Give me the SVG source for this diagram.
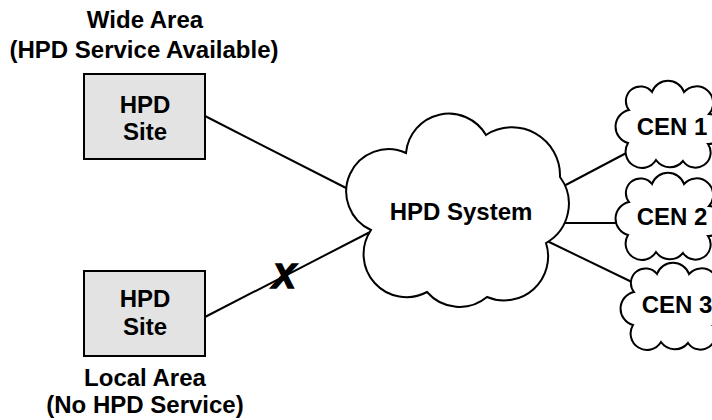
<svg xmlns="http://www.w3.org/2000/svg" width="712" height="420" viewBox="0 0 712 420">
  <style>
    .t { font-family: "Liberation Sans", Arial, sans-serif; font-weight: bold; font-size: 24px; fill: #000; text-anchor: middle; }
    .box { fill: #e3e3e3; stroke: #000; stroke-width: 2; }
    .cloud { fill: #fff; stroke: #000; stroke-width: 2; stroke-linejoin: miter; }
    .link { stroke: #000; stroke-width: 2; fill: none; }
    .cut { font-size: 35px; font-style: italic; stroke: #000; stroke-width: 1.6; }
  </style>
  <defs>
    <path id="small-cloud" class="cloud" d="M6,24 A13,13 0 0 1 29,6 A17,17 0 0 1 61,6 A14,14 0 0 1 86,28 A15,15 0 0 1 85,58 A14,14 0 0 1 60,75 A17,17 0 0 1 33,74 A14,14 0 0 1 5,57 A17,17 0 0 1 6,24 Z"/>
  </defs>
  <rect width="712" height="420" fill="#fff"/>

  <g id="connectors">
    <line class="link" x1="205" y1="116" x2="350" y2="190"/>
    <line class="link" x1="205" y1="317" x2="372" y2="231"/>
    <line class="link" x1="560" y1="188" x2="632" y2="150"/>
    <line class="link" x1="565" y1="223" x2="630" y2="223"/>
    <line class="link" x1="545" y1="240" x2="636" y2="284"/>
    <text class="t cut" x="284" y="288">X</text>
  </g>

  <g id="wide-area-site">
    <text class="t" x="145" y="28">Wide Area</text>
    <text class="t" x="144" y="58">(HPD Service Available)</text>
    <rect class="box" x="84" y="74" width="121" height="85"/>
    <text class="t" x="145" y="113">HPD</text>
    <text class="t" x="145" y="140">Site</text>
  </g>

  <g id="local-area-site">
    <rect class="box" x="84" y="271" width="121" height="85"/>
    <text class="t" x="145" y="307">HPD</text>
    <text class="t" x="145" y="335">Site</text>
    <text class="t" x="145" y="386">Local Area</text>
    <text class="t" x="145" y="413">(No HPD Service)</text>
  </g>

  <g id="hpd-system">
    <path class="cloud" d="M406,153 A43,43 0 0 1 486,135 A48,48 0 0 1 560,177 A45,45 0 0 1 546,243 A44,44 0 0 1 487,297 A43,43 0 0 1 427,292 A43,43 0 0 1 371,230 A42,42 0 0 1 406,153 Z"/>
    <text class="t" x="461" y="220">HPD System</text>
  </g>

  <g id="cen1">
    <use href="#small-cloud" transform="translate(623,86)"/>
    <text class="t" x="672" y="135">CEN 1</text>
  </g>
  <g id="cen2">
    <use href="#small-cloud" transform="translate(623,178)"/>
    <text class="t" x="672" y="225">CEN 2</text>
  </g>
  <g id="cen3">
    <use href="#small-cloud" transform="translate(628,268)"/>
    <text class="t" x="677" y="313">CEN 3</text>
  </g>
</svg>
